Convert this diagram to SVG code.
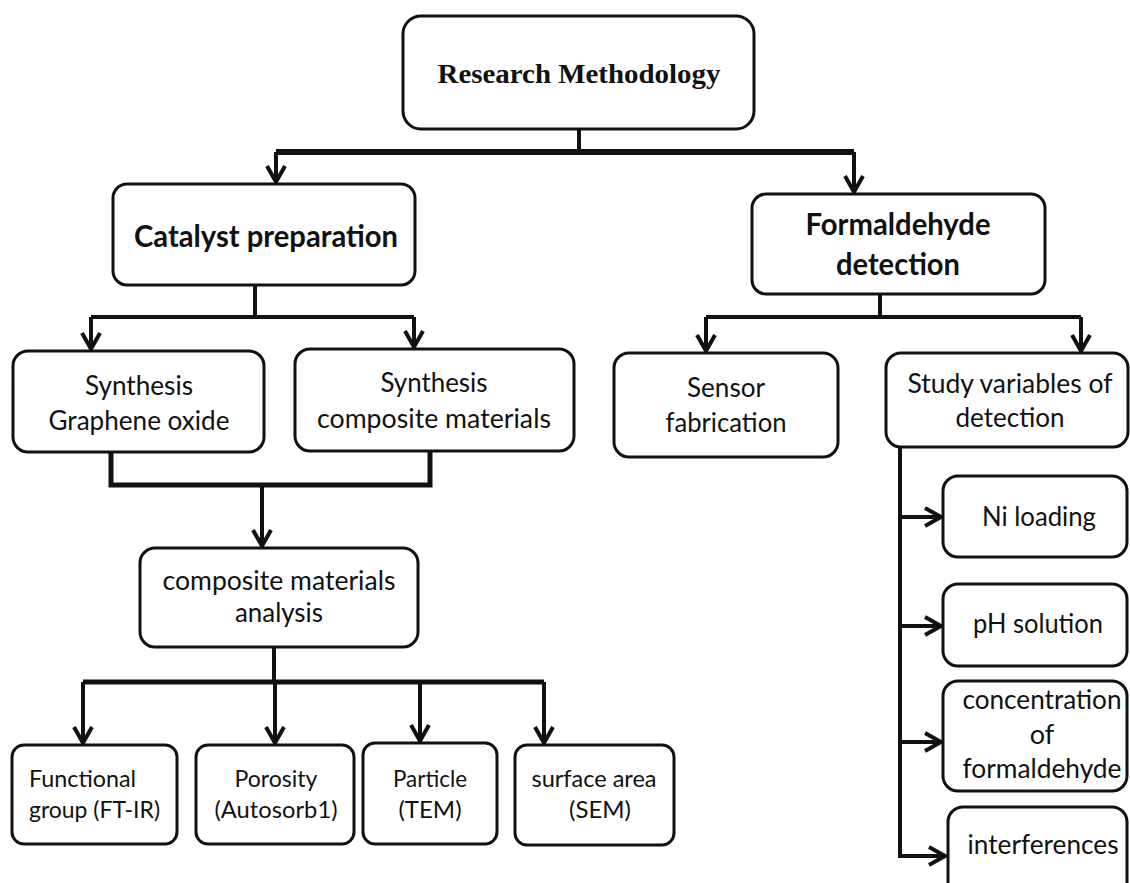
<svg xmlns="http://www.w3.org/2000/svg" width="1130" height="883" viewBox="0 0 1130 883">
<style>
.box{fill:#fff;stroke:#111;stroke-width:3}
.t{font-family:Lato,"Liberation Sans",sans-serif;font-size:27px;fill:#111;text-anchor:middle}
.s{font-family:Lato,"Liberation Sans",sans-serif;font-size:24px;fill:#111;text-anchor:middle}
.b{font-family:Lato,"Liberation Sans",sans-serif;font-size:30px;font-weight:bold;fill:#111;text-anchor:middle}
.r{font-family:"Liberation Serif","Times New Roman",serif;font-size:27px;font-weight:bold;fill:#111;text-anchor:middle}
.c{fill:none;stroke:#111;stroke-width:4;stroke-linejoin:miter}
.a{marker-end:url(#ah)}
</style>
<defs>
<marker id="ah" markerUnits="userSpaceOnUse" markerWidth="30" markerHeight="30" viewBox="-25 -15 30 30" refX="0" refY="0" orient="auto" overflow="visible">
<path d="M-17,-9 L-1,0 L-17,9" fill="none" stroke="#111" stroke-width="4"/>
</marker>
</defs>
<g id="connectors">
<path class="c" d="M579,129 V152"/>
<path class="c" style="stroke-width:6" d="M276,152 H854"/>
<path class="c a" d="M276,152 V183"/>
<path class="c a" d="M854,152 V193"/>
<path class="c" d="M255,285 V317"/>
<path class="c" d="M91,317 H414"/>
<path class="c a" d="M91,317 V350"/>
<path class="c a" d="M414,317 V348"/>
<path class="c" style="stroke-width:5" d="M111,452 V485 H430 V451"/>
<path class="c a" d="M262,485 V547"/>
<path class="c" d="M274,647 V682"/>
<path class="c" style="stroke-width:5" d="M83,682 H544"/>
<path class="c a" d="M83,682 V744"/>
<path class="c a" d="M275,682 V744"/>
<path class="c a" d="M420,682 V742"/>
<path class="c a" d="M544,682 V744"/>
<path class="c" d="M880,294 V317"/>
<path class="c" d="M706,317 H1081"/>
<path class="c a" d="M706,317 V352"/>
<path class="c a" d="M1081,317 V352"/>
<path class="c a" d="M900,447 V856 H946"/>
<path class="c a" d="M900,517 H942"/>
<path class="c a" d="M900,626 H942"/>
<path class="c a" d="M900,742 H942"/>
</g>
<g id="research">
<rect class="box" x="403" y="16" width="351" height="113" rx="18"/>
<text class="r" x="579" y="83" textLength="283" lengthAdjust="spacingAndGlyphs">Research  Methodology</text>
</g>
<g id="catalyst">
<rect class="box" x="113" y="184" width="302" height="101" rx="14"/>
<text class="b" x="266" y="247" textLength="264" lengthAdjust="spacingAndGlyphs">Catalyst preparation</text>
</g>
<g id="formaldehyde">
<rect class="box" x="752" y="194" width="293" height="100" rx="14"/>
<text class="b" x="898" y="235" textLength="185" lengthAdjust="spacingAndGlyphs">Formaldehyde</text>
<text class="b" x="898" y="275" textLength="124" lengthAdjust="spacingAndGlyphs">detection</text>
</g>
<g id="graphene">
<rect class="box" x="13" y="351" width="251" height="101" rx="15"/>
<text class="t" x="139" y="395" textLength="108" lengthAdjust="spacingAndGlyphs">Synthesis</text>
<text class="t" x="139" y="430" textLength="181" lengthAdjust="spacingAndGlyphs">Graphene oxide</text>
</g>
<g id="composite">
<rect class="box" x="295" y="349" width="279" height="102" rx="15"/>
<text class="t" x="434" y="392" textLength="107" lengthAdjust="spacingAndGlyphs">Synthesis</text>
<text class="t" x="434" y="428" textLength="234" lengthAdjust="spacingAndGlyphs">composite materials</text>
</g>
<g id="analysis">
<rect class="box" x="140" y="548" width="278" height="99" rx="15"/>
<text class="t" x="279" y="590" textLength="233" lengthAdjust="spacingAndGlyphs">composite materials</text>
<text class="t" x="279" y="622" textLength="88" lengthAdjust="spacingAndGlyphs">analysis</text>
</g>
<g id="functional">
<rect class="box" x="12" y="745" width="165" height="99" rx="12"/>
<text class="s" x="29" y="787" style="text-anchor:start" textLength="107" lengthAdjust="spacingAndGlyphs">Functional</text>
<text class="s" x="29" y="818" style="text-anchor:start" textLength="131" lengthAdjust="spacingAndGlyphs">group (FT-IR)</text>
</g>
<g id="porosity">
<rect class="box" x="196" y="745" width="158" height="99" rx="12"/>
<text class="s" x="276" y="787" textLength="83" lengthAdjust="spacingAndGlyphs">Porosity</text>
<text class="s" x="276" y="818" textLength="123" lengthAdjust="spacingAndGlyphs">(Autosorb1)</text>
</g>
<g id="particle">
<rect class="box" x="363" y="743" width="134" height="101" rx="12"/>
<text class="s" x="430" y="787" textLength="74" lengthAdjust="spacingAndGlyphs">Particle</text>
<text class="s" x="430" y="818">(TEM)</text>
</g>
<g id="surface">
<rect class="box" x="515" y="745" width="159" height="100" rx="12"/>
<text class="s" x="594" y="787" textLength="125" lengthAdjust="spacingAndGlyphs">surface area</text>
<text class="s" x="600" y="818">(SEM)</text>
</g>
<g id="sensor">
<rect class="box" x="614" y="353" width="224" height="104" rx="15"/>
<text class="t" x="726" y="397" textLength="78" lengthAdjust="spacingAndGlyphs">Sensor</text>
<text class="t" x="726" y="432" textLength="121" lengthAdjust="spacingAndGlyphs">fabrication</text>
</g>
<g id="study">
<rect class="box" x="886" y="353" width="242" height="94" rx="15"/>
<text class="t" x="1010" y="393" textLength="205" lengthAdjust="spacingAndGlyphs">Study variables of</text>
<text class="t" x="1010" y="427" textLength="109" lengthAdjust="spacingAndGlyphs">detection</text>
</g>
<g id="ni">
<rect class="box" x="943" y="476" width="184" height="81" rx="15"/>
<text class="t" x="1039" y="526" textLength="114" lengthAdjust="spacingAndGlyphs">Ni loading</text>
</g>
<g id="ph">
<rect class="box" x="943" y="584" width="184" height="82" rx="15"/>
<text class="t" x="1038" y="633" textLength="130" lengthAdjust="spacingAndGlyphs">pH solution</text>
</g>
<g id="concentration">
<rect class="box" x="943" y="681" width="184" height="110" rx="15"/>
<text class="t" x="1042" y="709" textLength="159" lengthAdjust="spacingAndGlyphs">concentration</text>
<text class="t" x="1042" y="744">of</text>
<text class="t" x="1042" y="778" textLength="159" lengthAdjust="spacingAndGlyphs">formaldehyde</text>
</g>
<g id="interferences">
<rect class="box" x="948" y="807" width="179" height="100" rx="15"/>
<text class="t" x="1043" y="854" textLength="151" lengthAdjust="spacingAndGlyphs">interferences</text>
</g>
</svg>
